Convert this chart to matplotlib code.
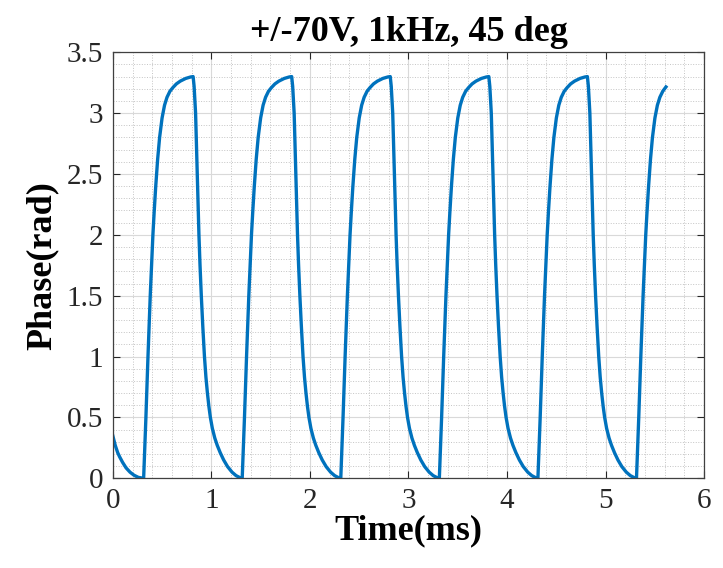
import numpy as np
import matplotlib
matplotlib.use("Agg")
import matplotlib.pyplot as plt
from matplotlib.ticker import MultipleLocator

# measured phase trace, 1 kHz drive (one line per switching cycle)
time_ms = [
    0.000, 0.025, 0.050, 0.070, 0.100, 0.135, 0.175, 0.215, 0.260,
    0.313, 0.325, 0.336, 0.357, 0.380, 0.395, 0.407, 0.420, 0.435, 0.455, 0.475, 0.500, 0.525, 0.550, 0.580, 0.610, 0.645, 0.685, 0.740, 0.790, 0.815,
    0.825, 0.840, 0.857, 0.874, 0.885, 0.898, 0.913, 0.930, 0.945, 0.960, 0.975, 0.990, 1.010, 1.035, 1.060, 1.090, 1.125, 1.165, 1.210, 1.250, 1.290,
    1.313, 1.325, 1.336, 1.357, 1.380, 1.395, 1.407, 1.420, 1.435, 1.455, 1.475, 1.500, 1.525, 1.550, 1.580, 1.610, 1.645, 1.685, 1.740, 1.790, 1.815,
    1.825, 1.840, 1.857, 1.874, 1.885, 1.898, 1.913, 1.930, 1.945, 1.960, 1.975, 1.990, 2.010, 2.035, 2.060, 2.090, 2.125, 2.165, 2.210, 2.250, 2.290,
    2.313, 2.325, 2.336, 2.357, 2.380, 2.395, 2.407, 2.420, 2.435, 2.455, 2.475, 2.500, 2.525, 2.550, 2.580, 2.610, 2.645, 2.685, 2.740, 2.790, 2.815,
    2.825, 2.840, 2.857, 2.874, 2.885, 2.898, 2.913, 2.930, 2.945, 2.960, 2.975, 2.990, 3.010, 3.035, 3.060, 3.090, 3.125, 3.165, 3.210, 3.250, 3.290,
    3.313, 3.325, 3.336, 3.357, 3.380, 3.395, 3.407, 3.420, 3.435, 3.455, 3.475, 3.500, 3.525, 3.550, 3.580, 3.610, 3.645, 3.685, 3.740, 3.790, 3.815,
    3.825, 3.840, 3.857, 3.874, 3.885, 3.898, 3.913, 3.930, 3.945, 3.960, 3.975, 3.990, 4.010, 4.035, 4.060, 4.090, 4.125, 4.165, 4.210, 4.250, 4.290,
    4.313, 4.325, 4.336, 4.357, 4.380, 4.395, 4.407, 4.420, 4.435, 4.455, 4.475, 4.500, 4.525, 4.550, 4.580, 4.610, 4.645, 4.685, 4.740, 4.790, 4.815,
    4.825, 4.840, 4.857, 4.874, 4.885, 4.898, 4.913, 4.930, 4.945, 4.960, 4.975, 4.990, 5.010, 5.035, 5.060, 5.090, 5.125, 5.165, 5.210, 5.250, 5.290,
    5.313, 5.325, 5.336, 5.357, 5.380, 5.395, 5.407, 5.420, 5.435, 5.455, 5.475, 5.500, 5.525, 5.550, 5.580, 5.612,
]
phase_rad = [
    0.350, 0.270, 0.210, 0.175, 0.130, 0.085, 0.050, 0.025, 0.007,
    0.00, 0.25, 0.50, 1.00, 1.50, 1.78, 2.00, 2.19, 2.39, 2.62, 2.80, 2.96, 3.065, 3.13, 3.18, 3.21, 3.24, 3.263, 3.285, 3.297, 3.30,
    3.22, 3.00, 2.50, 2.00, 1.75, 1.50, 1.25, 1.00, 0.83, 0.70, 0.59, 0.50, 0.41, 0.33, 0.27, 0.21, 0.15, 0.095, 0.050, 0.022, 0.005,
    0.00, 0.25, 0.50, 1.00, 1.50, 1.78, 2.00, 2.19, 2.39, 2.62, 2.80, 2.96, 3.065, 3.13, 3.18, 3.21, 3.24, 3.263, 3.285, 3.297, 3.30,
    3.22, 3.00, 2.50, 2.00, 1.75, 1.50, 1.25, 1.00, 0.83, 0.70, 0.59, 0.50, 0.41, 0.33, 0.27, 0.21, 0.15, 0.095, 0.050, 0.022, 0.005,
    0.00, 0.25, 0.50, 1.00, 1.50, 1.78, 2.00, 2.19, 2.39, 2.62, 2.80, 2.96, 3.065, 3.13, 3.18, 3.21, 3.24, 3.263, 3.285, 3.297, 3.30,
    3.22, 3.00, 2.50, 2.00, 1.75, 1.50, 1.25, 1.00, 0.83, 0.70, 0.59, 0.50, 0.41, 0.33, 0.27, 0.21, 0.15, 0.095, 0.050, 0.022, 0.005,
    0.00, 0.25, 0.50, 1.00, 1.50, 1.78, 2.00, 2.19, 2.39, 2.62, 2.80, 2.96, 3.065, 3.13, 3.18, 3.21, 3.24, 3.263, 3.285, 3.297, 3.30,
    3.22, 3.00, 2.50, 2.00, 1.75, 1.50, 1.25, 1.00, 0.83, 0.70, 0.59, 0.50, 0.41, 0.33, 0.27, 0.21, 0.15, 0.095, 0.050, 0.022, 0.005,
    0.00, 0.25, 0.50, 1.00, 1.50, 1.78, 2.00, 2.19, 2.39, 2.62, 2.80, 2.96, 3.065, 3.13, 3.18, 3.21, 3.24, 3.263, 3.285, 3.297, 3.30,
    3.22, 3.00, 2.50, 2.00, 1.75, 1.50, 1.25, 1.00, 0.83, 0.70, 0.59, 0.50, 0.41, 0.33, 0.27, 0.21, 0.15, 0.095, 0.050, 0.022, 0.005,
    0.00, 0.25, 0.50, 1.00, 1.50, 1.78, 2.00, 2.19, 2.39, 2.62, 2.80, 2.96, 3.065, 3.13, 3.18, 3.215,
]

title = "+/-70V, 1kHz, 45 deg"
xlabel = "Time(ms)"
ylabel = "Phase(rad)"
ytick_labels = ['0', '0.5', '1', '1.5', '2', '2.5', '3', '3.5']

plt.rcParams['font.family'] = ['Liberation Serif', 'DejaVu Serif']

fig = plt.figure(figsize=(7.23, 5.68), dpi=100)
ax = fig.add_axes([0.156, 0.158, 0.818, 0.750])

ax.plot(time_ms, phase_rad, color='#0072BD', linewidth=2.4, solid_joinstyle='round')

ax.set_xlim(0, 6)
ax.set_ylim(0, 3.5)
ax.xaxis.set_major_locator(MultipleLocator(1))
ax.xaxis.set_minor_locator(MultipleLocator(0.2))
ax.yaxis.set_minor_locator(MultipleLocator(0.1))
ax.set_yticks(np.arange(0, 3.51, 0.5))
ax.set_yticklabels(ytick_labels)

# matlab-like grid: faint solid major, dotted minor
ax.grid(which='major', color='#d9d9d9', linewidth=0.8, linestyle='-')
ax.grid(which='minor', color='#c4c4c4', linewidth=0.7, linestyle=':')
ax.set_axisbelow(True)

ax.tick_params(which='major', direction='in', length=5, width=0.8, top=True, right=True,
               labelsize=21, colors='#262626', pad=7)
ax.tick_params(which='minor', length=0)
for s in ax.spines.values():
    s.set_color('#404040')
    s.set_linewidth(0.9)

ax.set_title(title, fontsize=26, fontweight='bold', pad=8)
ax.set_xlabel(xlabel, fontsize=26, fontweight='bold', labelpad=0)
ax.set_ylabel(ylabel, fontsize=26, fontweight='bold', labelpad=6)

fig.savefig('out.png', dpi=100)
